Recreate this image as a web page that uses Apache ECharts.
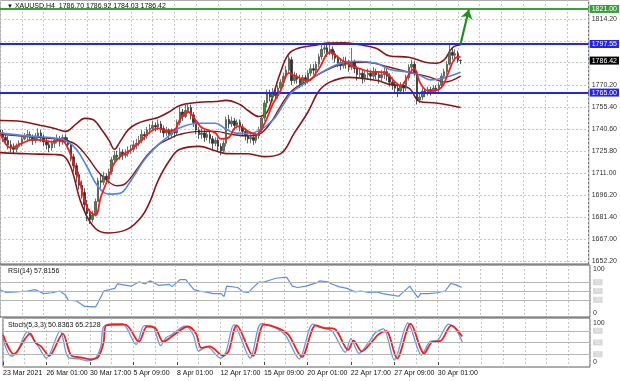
<!DOCTYPE html>
<html><head><meta charset="utf-8">
<script src="https://cdn.jsdelivr.net/npm/echarts@6/dist/echarts.min.js"></script>
<style>html,body{margin:0;padding:0;background:#fff}#c{width:620px;height:381px}</style>
</head><body><div id="c"></div>
<script>
// ---- candles (H4 bars, index 0 = 23 Mar 2021 09:00) ----
const opens = [
1740,1738,1735,1733,1730,1728,1727,1729,1731,1734,
1736,1737,1735,1733,1736,1738,1735,1732,1730,1728,
1731,1733,1734,1732,1735,1733,1730,1722,1716,1710,
1703,1698,1690,1684,1680,1683,1692,1706,1705,1709,
1707,1712,1720,1723,1722,1725,1723,1724,1726,1727,
1730,1731,1733,1737,1736,1740,1741,1743,1742,1744,
1741,1738,1740,1737,1739,1738,1745,1752,1749,1753,
1755,1750,1745,1740,1737,1738,1735,1737,1734,1731,
1733,1729,1726,1731,1747,1744,1746,1743,1745,1742,
1739,1736,1734,1735,1733,1736,1740,1748,1758,1764,
1762,1765,1763,1768,1772,1776,1780,1787,1773,1776,
1774,1771,1775,1773,1778,1781,1780,1784,1789,1794,
1795,1792,1794,1791,1788,1785,1783,1786,1784,1782,
1785,1781,1777,1778,1775,1777,1778,1776,1779,1777,
1775,1777,1779,1776,1772,1770,1768,1766,1770,1768,
1775,1782,1784,1778,1760,1762,1766,1765,1767,1766,
1768,1767,1770,1776,1779,1784,1792,1790,1791,1786.70];
const closes = [
1738,1735,1733,1730,1728,1727,1729,1731,1734,1736,
1737,1735,1733,1736,1738,1735,1732,1730,1728,1731,
1733,1734,1732,1735,1733,1730,1722,1716,1710,1703,
1698,1690,1684,1680,1683,1692,1706,1705,1709,1707,
1712,1720,1723,1722,1725,1723,1724,1726,1727,1730,
1731,1733,1737,1736,1740,1741,1743,1742,1744,1741,
1738,1740,1737,1739,1738,1745,1752,1749,1753,1755,
1750,1745,1740,1737,1738,1735,1737,1734,1731,1733,
1729,1726,1731,1747,1744,1746,1743,1745,1742,1739,
1736,1734,1735,1733,1736,1740,1748,1758,1764,1762,
1765,1763,1768,1772,1776,1780,1788,1773,1776,1774,
1771,1775,1773,1778,1781,1780,1784,1789,1794,1795,
1792,1794,1791,1788,1785,1783,1786,1784,1782,1785,
1781,1777,1778,1775,1777,1778,1776,1779,1777,1775,
1777,1779,1776,1772,1770,1768,1766,1770,1768,1775,
1782,1784,1778,1760,1762,1766,1765,1767,1766,1768,
1767,1770,1776,1779,1784,1792,1790,1791,1786.8,1786.42];
const highs = [
1742,1740,1737,1736,1733,1731,1731,1733,1736,1738,
1740,1739,1737,1738,1741,1740,1737,1735,1733,1733,
1735,1737,1736,1737,1737,1735,1731,1724,1718,1712,
1706,1701,1693,1687,1686,1694,1708,1710,1712,1711,
1714,1722,1726,1726,1728,1727,1727,1729,1730,1733,
1734,1736,1740,1739,1742,1744,1746,1745,1747,1746,
1743,1742,1741,1741,1741,1747,1756,1754,1757,1758,
1757,1752,1747,1742,1741,1740,1739,1739,1736,1735,
1735,1731,1733,1749,1750,1749,1748,1747,1747,1744,
1741,1739,1738,1737,1738,1742,1750,1760,1767,1767,
1768,1767,1770,1774,1778,1783,1790,1789,1779,1778,
1777,1777,1777,1780,1784,1784,1786,1791,1797,1798,
1797,1797,1796,1793,1790,1788,1789,1789,1787,1795,
1787,1783,1781,1780,1780,1781,1780,1782,1781,1779,
1780,1782,1781,1778,1775,1773,1770,1772,1772,1777,
1784,1787,1786,1779,1765,1768,1768,1769,1769,1770,
1770,1772,1778,1781,1786,1797,1795,1794,1793,1786.92];
const lows = [
1736,1732,1730,1727,1725,1724,1725,1728,1729,1733,
1733,1733,1730,1731,1734,1732,1729,1727,1725,1726,
1728,1731,1729,1730,1730,1727,1719,1712,1705,1700,
1694,1686,1679,1677,1678,1682,1692,1701,1703,1704,
1704,1710,1718,1719,1720,1720,1721,1722,1724,1725,
1727,1729,1731,1733,1734,1737,1739,1739,1740,1738,
1735,1736,1734,1735,1735,1736,1743,1746,1748,1751,
1747,1742,1737,1734,1734,1732,1733,1731,1727,1729,
1726,1723,1724,1729,1741,1742,1740,1741,1739,1736,
1733,1731,1731,1730,1731,1734,1738,1746,1755,1759,
1759,1760,1761,1766,1769,1774,1778,1770,1771,1771,
1768,1769,1770,1771,1776,1777,1778,1782,1787,1791,
1789,1790,1787,1785,1782,1780,1781,1781,1779,1780,
1778,1773,1774,1771,1772,1774,1773,1774,1774,1771,
1772,1774,1773,1769,1767,1764,1762,1764,1764,1766,
1773,1779,1776,1757,1758,1760,1762,1763,1763,1764,
1764,1765,1768,1774,1777,1783,1787,1786,1785,1784.03];

// ---- indicator lines, read at sample bars: [bar index, value] ----
const bbUpper = [[0,1746.3],[8,1745.6],[15,1743],[20,1741],[24,1739],[28,1744],[31,1747.7],[34,1747],[37,1741],[40,1733],[42,1727],[44,1732],[47,1740],[50,1744],[55,1747],[58,1748.3],[62,1752],[66,1756.4],[73,1758.5],[79,1759],[83,1759.8],[88,1757],[91,1753],[95,1749],[98,1752],[100,1762],[103,1779],[106,1791],[110,1795],[115,1796.5],[120,1798.1],[126,1798.3],[132,1797],[138,1794.7],[143,1789.5],[150,1788.7],[156,1785.3],[160,1784.6],[163,1787],[166,1795],[169,1797]];
const bbMiddle = [[0,1737],[10,1735.5],[20,1734],[24,1733],[28,1730],[32,1722],[36,1712],[40,1705],[43,1702.6],[46,1704],[50,1713],[54,1723],[58,1730],[62,1734],[66,1737],[73,1739],[79,1739],[85,1737],[91,1736],[95,1737],[99,1744],[103,1756],[107,1766],[113,1773],[121,1781],[128,1785],[134,1785.3],[143,1782],[150,1778.6],[158,1775.2],[163,1772],[169,1776]];
const bbLower = [[0,1724.8],[10,1724],[20,1723.5],[23,1722.8],[26,1715],[30,1690],[35,1674],[40,1671],[47,1673.7],[52,1682],[55,1692],[58,1706],[62,1719],[66,1727],[73,1729],[79,1726],[83,1724.1],[91,1724],[97,1722.1],[103,1724.1],[108,1738],[113,1752],[117,1766],[121,1772],[128,1775.2],[138,1773.2],[143,1770.5],[150,1768],[154,1759],[160,1758],[169,1755]];
const maFast = [[0,1738],[4,1728],[8,1731],[12,1733.5],[16,1733],[19,1732],[22,1733],[24,1731],[27,1718],[29,1707],[32,1688],[35,1683],[37,1695],[40,1709],[42,1718],[45,1723.5],[48,1726.5],[52,1733],[54,1737],[58,1741],[61,1739.5],[64,1740],[66,1747],[69,1752],[72,1746],[74,1741.6],[79,1738],[81,1734],[84,1735],[86,1741],[88,1742.5],[91,1739],[94,1737],[97,1744],[100,1757],[103,1766.5],[106,1778],[108,1776.5],[111,1774],[113,1773],[117,1781],[121,1792],[123,1790],[126,1786],[129,1783],[132,1781],[136,1779],[141,1778.6],[145,1772],[147,1769.5],[150,1777],[152,1781],[154,1772],[156,1767],[158,1766],[162,1768.5],[164,1776],[167,1788],[169,1789]];
const maSlow = [[0,1738],[10,1736],[20,1734.5],[24,1733],[28,1727],[32,1715],[36,1702],[40,1697],[44,1697.5],[48,1706],[53,1720],[58,1730],[62,1736],[66,1741.5],[73,1744.5],[79,1744.5],[83,1740.5],[86,1738],[91,1737.5],[95,1739.5],[100,1746.3],[103,1754],[107,1765],[113,1772.5],[117,1777.5],[124,1784],[130,1786],[138,1784.6],[143,1780.5],[150,1778.6],[154,1776.6],[158,1773.5],[163,1775],[169,1778.6]];
const rsi = [[0,53],[2,47],[6,48],[10,50],[13,53],[16,44],[19,46],[22,50],[24,40],[25,29],[28,27.5],[31,15],[35,14],[36,25],[38,50],[42,56],[43,66],[48,61],[51,71],[53,66],[55,73],[58,63],[62,65],[63,60],[66,76],[68,76],[71,53],[73,50],[76,47],[78,44],[81,44],[82,37],[83,61],[87,58],[89,48],[91,47],[93,60],[95,71],[96,69],[99,75],[101,79],[104,81],[105,81],[107,61],[109,58],[112,61],[116,69],[117,73],[120,71],[121,67],[124,60],[127,56],[130,48],[132,50],[135,47],[138,48],[140,44],[144,40],[146,38],[147,44],[150,61],[151,52],[153,35],[154,44],[157,44],[160,46],[163,50],[165,67],[167,64],[169,57.8]];
const stochK = [[0,60],[3,15],[5,22],[9,78],[11,60],[13,40],[16,10],[21,80],[24,12],[28,8],[31,3],[34,10],[36,40],[37,90],[40,98],[44,98],[49,45],[52,93],[55,92],[58,42],[60,62],[62,70],[67,92],[70,70],[72,28],[75,40],[80,10],[82,25],[85,96],[91,10],[95,98],[100,88],[104,68],[109,8],[114,97],[117,88],[121,80],[126,25],[128,60],[131,22],[135,55],[137,75],[140,85],[144,5],[149,100],[154,18],[157,52],[160,56],[164,97],[167,80],[169,50.8]];
const stochD = [[0,70],[4,20],[10,73],[12,49],[14,40],[17,16],[22,73],[25,18],[29,11],[32,7],[35,12.5],[37,49],[38,94],[45,96],[50,52],[53,91],[56,87.5],[59,52],[63,70],[68,91],[71,73],[73,36],[76,40],[81,16],[83,27],[86,94],[92,16],[96,96],[101,87.5],[105,70],[110,13],[115,94],[118,87.5],[122,85],[127,31],[129,55],[132,27],[136,54],[138,70],[141,79],[145,9],[150,98],[155,22],[158,52],[161,54],[165,94],[169,65.2]];

// ---- levels & labels ----
const greenLevel = 1821.00;
const blueLevels = [1797.55, 1765.00];
const lastPrice = 1786.42;
const priceGridValues = [1652.2,1667.0,1681.4,1696.2,1711.0,1725.8,1740.6,1755.4,1770.2,1785.0,1799.6,1814.2];
const priceLabelValues = [1652.2,1667.0,1681.4,1696.2,1711.0,1725.8,1740.6,1755.4,1770.2,1814.2];
const rsiLevels = [70,50,30];
const stochLevels = [80,50,20];
const dateLabels = ['23 Mar 2021','26 Mar 01:00','30 Mar 17:00','5 Apr 09:00','8 Apr 01:00','12 Apr 17:00','15 Apr 09:00','20 Apr 01:00','22 Apr 17:00','27 Apr 09:00','30 Apr 01:00'];
const arrowFrom = [169, 1797.55], arrowTo = [172, 1820.5];

const FONT = 'Liberation Sans';
const SLOTS = 217;
const categories = Array.from({length: SLOTS}, (_, i) => String(i));
const candleData = closes.map((c, i) => [opens[i], c, lows[i], highs[i]]);

const vSplit = {show: true, interval: (i) => i % 8 === 0, lineStyle: {color: '#c6c6c6', type: [2, 2], width: 1}};
function xAxisFor(gi, withLabels) {
  return {
    type: 'category', gridIndex: gi, data: categories, boundaryGap: false,
    axisLine: {show: false},
    axisTick: withLabels ? {show: true, interval: (i) => i % 16 === 0 && i <= 160, length: 3, lineStyle: {color: '#444'}} : {show: false},
    axisLabel: withLabels ? {
      show: true, interval: (i) => i % 16 === 0 && i <= 160, align: 'left', margin: 3,
      fontSize: 7, color: '#111', fontFamily: FONT,
      formatter: (v) => dateLabels[Number(v) / 16] || ''
    } : {show: false},
    splitLine: vSplit
  };
}
const gridStyle = {show: true, borderColor: '#5a5a5a', borderWidth: 1, backgroundColor: '#fff'};
const lvlLabel = (v) => ({show: true, position: 'end', distance: 3, formatter: String(v), fontSize: 5, color: '#ececec', backgroundColor: '#d8d8d8', padding: [1, 2, 0, 2], fontFamily: FONT});

const chart = echarts.init(document.getElementById('c'));
chart.setOption({
  animation: false,
  backgroundColor: '#fff',
  title: [
    {left: 2, top: -2, text: '{t|▼} XAUUSD,H4  1786.70 1786.92 1784.03 1786.42',
     textStyle: {fontSize: 7, fontWeight: 'normal', color: '#111', fontFamily: FONT, rich: {t: {fontSize: 6, color: '#111'}}}},
    {left: 3, top: 263, text: 'RSI(14) 57.8156', textStyle: {fontSize: 7, fontWeight: 'normal', color: '#111', fontFamily: FONT}},
    {left: 3, top: 317, text: 'Stoch(5,3,3) 50.8363 65.2128', textStyle: {fontSize: 7, fontWeight: 'normal', color: '#111', fontFamily: FONT}}
  ],
  grid: [
    Object.assign({left: 0, right: 30, top: 0, height: 264}, gridStyle),
    Object.assign({left: 0, right: 30, top: 265, height: 52}, gridStyle),
    Object.assign({left: 0, right: 30, top: 318, height: 49}, gridStyle)
  ],
  xAxis: [xAxisFor(0, false), xAxisFor(1, false), xAxisFor(2, true)],
  yAxis: [
    {type: 'value', gridIndex: 0, position: 'right', min: 1650.2, max: 1827, scale: true,
     axisLine: {show: false}, axisTick: {show: false, customValues: priceGridValues},
     axisLabel: {customValues: priceLabelValues, formatter: (v) => v.toFixed(2), fontSize: 7, color: '#333', margin: 3, fontFamily: FONT},
     splitLine: {show: true, lineStyle: {color: '#c6c6c6', type: [2, 2]}}},
    {type: 'value', gridIndex: 1, position: 'right', min: -9.1, max: 109.1,
     axisLine: {show: false}, axisTick: {show: false, customValues: [0, 100]},
     axisLabel: {customValues: [0, 100], fontSize: 7, color: '#333', margin: 3, fontFamily: FONT},
     splitLine: {show: false}},
    {type: 'value', gridIndex: 2, position: 'right', min: -12.8, max: 112.8,
     axisLine: {show: false}, axisTick: {show: false, customValues: [0, 100]},
     axisLabel: {customValues: [0, 100], fontSize: 7, color: '#333', margin: 3, fontFamily: FONT},
     splitLine: {show: false}}
  ],
  series: [
    {type: 'line', xAxisIndex: 0, yAxisIndex: 0, data: bbUpper, smooth: 0.4, showSymbol: false, lineStyle: {color: '#8c1414', width: 1.6}, z: 3},
    {type: 'line', xAxisIndex: 0, yAxisIndex: 0, data: bbMiddle, smooth: 0.4, showSymbol: false, lineStyle: {color: '#8c1414', width: 1.4}, z: 3},
    {type: 'line', xAxisIndex: 0, yAxisIndex: 0, data: bbLower, smooth: 0.4, showSymbol: false, lineStyle: {color: '#8c1414', width: 1.6}, z: 3},
    {type: 'candlestick', xAxisIndex: 0, yAxisIndex: 0, data: candleData, barWidth: 2, z: 4,
     itemStyle: {color: '#2f9a2f', color0: '#303030', borderColor: '#505050', borderColor0: '#303030', borderWidth: 0.8},
     markLine: {
       silent: true, symbol: ['none', 'none'], animation: false,
       data: [
         {yAxis: greenLevel, lineStyle: {color: '#3aa03a', width: 2, type: 'solid'},
          label: {show: true, position: 'end', distance: 1, formatter: greenLevel.toFixed(2), color: '#fff', backgroundColor: '#3aa03a', padding: [1, 2, 0, 2], fontSize: 7, fontFamily: FONT}},
         ...blueLevels.map(v => ({yAxis: v, lineStyle: {color: '#2424f0', width: 2, type: 'solid'},
          label: {show: true, position: 'end', distance: 1, formatter: v.toFixed(2), color: '#fff', backgroundColor: '#2424f0', padding: [1, 2, 0, 2], fontSize: 7, fontFamily: FONT}})),
         {yAxis: lastPrice, lineStyle: {color: 'rgba(0,0,0,0)', width: 1, type: 'solid'},
          label: {show: true, position: 'end', distance: 1, formatter: lastPrice.toFixed(2), color: '#fff', backgroundColor: '#000', padding: [1, 2, 0, 2], fontSize: 7, fontFamily: FONT}}
       ]
     }},
    {type: 'line', xAxisIndex: 0, yAxisIndex: 0, data: maSlow, smooth: 0.4, showSymbol: false, lineStyle: {color: '#4f86e8', width: 1.6}, z: 5},
    {type: 'line', xAxisIndex: 0, yAxisIndex: 0, data: maFast, smooth: 0.4, showSymbol: false, lineStyle: {color: '#ff1a1a', width: 1.8}, z: 6,
     markLine: {silent: true, animation: false, symbol: ['none', 'arrow'], symbolSize: 9,
       data: [[{coord: arrowFrom}, {coord: arrowTo}]],
       lineStyle: {color: '#1f8f1f', width: 2.2, type: 'solid'}, label: {show: false}}},
    {type: 'line', xAxisIndex: 1, yAxisIndex: 1, data: rsi, showSymbol: false, lineStyle: {color: '#5b8fe6', width: 1.2},
     markLine: {silent: true, animation: false, symbol: ['none', 'none'],
       data: rsiLevels.map(v => ({yAxis: v, label: lvlLabel(v)})),
       lineStyle: {color: '#b5b5b5', width: 1, type: 'solid'}}},
    {type: 'line', xAxisIndex: 2, yAxisIndex: 2, data: stochK, smooth: 0.3, showSymbol: false, lineStyle: {color: '#5b9be8', width: 1.3},
     markLine: {silent: true, animation: false, symbol: ['none', 'none'],
       data: stochLevels.map(v => ({yAxis: v, label: lvlLabel(v)})),
       lineStyle: {color: '#b5b5b5', width: 1, type: 'solid'}}},
    {type: 'line', xAxisIndex: 2, yAxisIndex: 2, data: stochD, smooth: 0.3, showSymbol: false, lineStyle: {color: '#ff1a1a', width: 1.8}}
  ]
});
</script>
</body></html>
